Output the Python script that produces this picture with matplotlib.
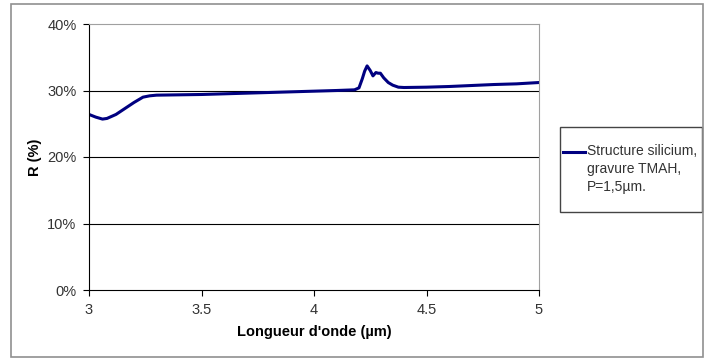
import matplotlib.pyplot as plt
from matplotlib.patches import Rectangle

plt.rcParams['font.family'] = ['Liberation Sans', 'DejaVu Sans']

# wavelength (um) and reflectance (%)
wl = [3.00, 3.03, 3.06, 3.08, 3.12, 3.16, 3.20, 3.24, 3.27, 3.30, 3.40, 3.50,
      3.60, 3.70, 3.80, 3.90, 4.00, 4.10, 4.18, 4.20, 4.215, 4.225, 4.236,
      4.25, 4.262, 4.275, 4.285, 4.295, 4.31, 4.33, 4.35, 4.375, 4.40,
      4.50, 4.60, 4.70, 4.80, 4.90, 5.00]
refl = [26.4, 26.0, 25.7, 25.8, 26.4, 27.3, 28.2, 29.0, 29.2, 29.3, 29.35, 29.4,
        29.5, 29.6, 29.7, 29.8, 29.9, 30.0, 30.1, 30.4, 31.8, 32.9, 33.7,
        33.0, 32.2, 32.7, 32.6, 32.6, 31.9, 31.2, 30.8, 30.5, 30.45,
        30.5, 30.6, 30.75, 30.9, 31.0, 31.2]

series_label = "Structure silicium,\ngravure TMAH,\nP=1,5µm."

fig = plt.figure(figsize=(7.04, 3.58), dpi=100)
W, H = 704, 358
ax = fig.add_axes([89 / W, 1 - 290 / H, (539 - 89) / W, (290 - 24) / H])

line, = ax.plot(wl, refl, color='#000080', linewidth=2.2)

ax.set_xlim(3, 5)
ax.set_ylim(0, 40)
ax.set_xticks([3, 3.5, 4, 4.5, 5])
ax.set_xticklabels(['3', '3.5', '4', '4.5', '5'])
ax.set_yticks([0, 10, 20, 30, 40])
ax.set_yticklabels(['0%', '10%', '20%', '30%', '40%'])
for y in [10, 20, 30]:
    ax.axhline(y, color='black', linewidth=0.8, zorder=0)

ax.tick_params(direction='out', length=4, width=0.8, labelsize=10.5,
               colors='black', labelcolor='#333333', pad=5)
ax.spines['left'].set_color('black')
ax.spines['bottom'].set_color('black')
ax.spines['top'].set_color('#a0a0a0')
ax.spines['right'].set_color('#a0a0a0')

ax.set_xlabel("Longueur d'onde (µm)", fontsize=10.5, fontweight='bold', labelpad=6)
ax.set_ylabel("R (%)", fontsize=10.5, fontweight='bold', labelpad=4)

# legend box
fig.patches.append(Rectangle((560 / W, 1 - 212 / H), (702 - 560) / W, (212 - 127) / H,
                             transform=fig.transFigure, fill=False,
                             edgecolor='#444444', linewidth=1))
fig.lines.append(plt.Line2D([563 / W, 585 / W], [1 - 152 / H, 1 - 152 / H],
                            transform=fig.transFigure, color='#000080', linewidth=2.2))
fig.text(587 / W, 1 - 144 / H, series_label, fontsize=10, va='top', ha='left',
         color='#333333', linespacing=1.35)

# outer chart frame
fig.patches.append(Rectangle((11 / W, 1 - 357 / H), (703 - 11) / W, (357 - 4) / H,
                             transform=fig.transFigure, fill=False,
                             edgecolor='#909090', linewidth=1.2))

fig.savefig('out.png', dpi=100)
